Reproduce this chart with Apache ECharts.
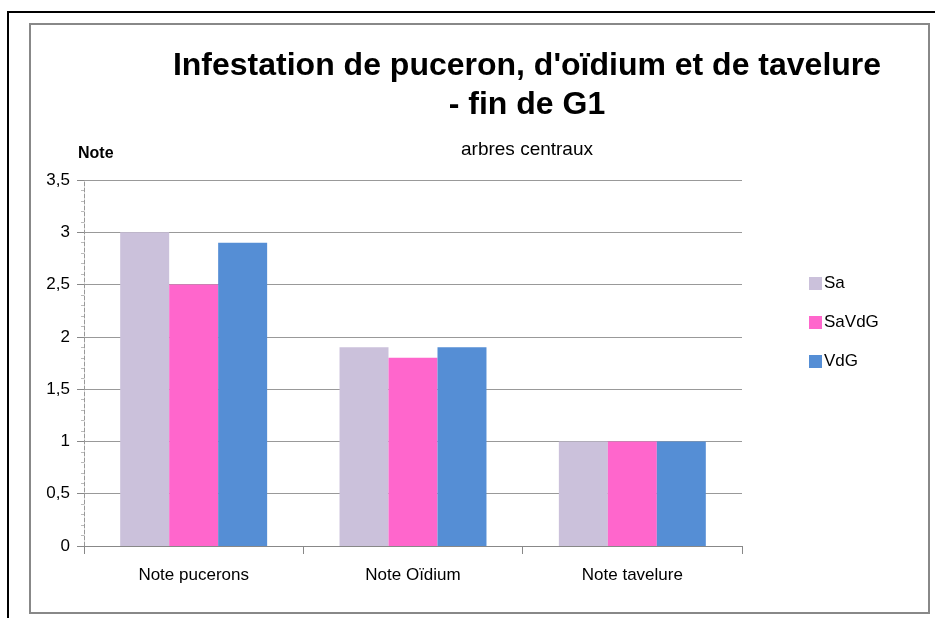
<!DOCTYPE html>
<html><head><meta charset="utf-8">
<script src="https://cdn.jsdelivr.net/npm/echarts@6/dist/echarts.min.js"></script>
<style>html,body{margin:0;padding:0;background:#fff}#c{width:935px;height:618px}</style>
</head><body><div id="c"></div>
<script>
var categories = ['Note pucerons', 'Note Oïdium', 'Note tavelure'];
var seriesNames = ['Sa', 'SaVdG', 'VdG'];
var valuesSa = [3, 1.9, 1];
var valuesSaVdG = [2.5, 1.8, 1];
var valuesVdG = [2.9, 1.9, 1];
var colors = ['#CBC1DB', '#FF66CC', '#558ED5'];
var FONT = '"Liberation Sans", Arial, sans-serif';

var chart = echarts.init(document.getElementById('c'));
var data = [valuesSa, valuesSaVdG, valuesVdG];
chart.setOption({
  animation: false,
  backgroundColor: '#fff',
  textStyle: { fontFamily: FONT },
  title: [{
    text: 'Infestation de puceron, d\'oïdium et de tavelure\n- fin de G1',
    left: 522, top: 42, textAlign: 'center',
    textStyle: { fontSize: 32, fontWeight: 'bold', color: '#000', lineHeight: 39, fontFamily: FONT }
  }, {
    text: 'arbres centraux',
    left: 522, top: 135, textAlign: 'center',
    textStyle: { fontSize: 19, fontWeight: 'normal', color: '#000', fontFamily: FONT }
  }],
  legend: {
    orient: 'vertical', left: 804, top: 270, itemGap: 22,
    itemWidth: 13, itemHeight: 13, icon: 'rect',
    textStyle: { fontSize: 17, color: '#000', fontFamily: FONT, padding: [0, 0, 0, -3] },
    data: seriesNames
  },
  grid: { left: 84, right: 193, top: 180, bottom: 72, containLabel: false },
  xAxis: {
    type: 'category', data: categories,
    axisLine: { lineStyle: { color: '#888', width: 1 } },
    axisTick: { show: true, length: 8, lineStyle: { color: '#888' } },
    axisLabel: { fontSize: 17, color: '#000', margin: 21, fontFamily: FONT }
  },
  yAxis: {
    type: 'value', min: 0, max: 3.5, interval: 0.5,
    name: 'Note', nameLocation: 'end', nameGap: 18,
    nameTextStyle: { fontSize: 16, fontWeight: 'bold', color: '#000', align: 'left', padding: [0, 0, 0, -6], fontFamily: FONT },
    axisLine: { show: true, lineStyle: { color: '#999', type: 'dashed', width: 1 } },
    axisTick: { show: true, length: 7, lineStyle: { color: '#888' } },
    minorTick: { show: true, splitNumber: 5, length: 3, lineStyle: { color: '#bbb' } },
    splitLine: { show: true, lineStyle: { color: '#999', width: 1 } },
    axisLabel: {
      fontSize: 17, color: '#000', margin: 14, fontFamily: FONT,
      formatter: function (v) { return String(v).replace('.', ','); }
    }
  },
  series: seriesNames.map(function (n, i) {
    return {
      name: n, type: 'bar', data: data[i],
      barGap: '0%', barCategoryGap: '33%',
      itemStyle: { color: colors[i] }
    };
  }),
  graphic: [
    { type: 'polyline', shape: { points: [[8, 618], [8, 12], [935, 12]] }, style: { stroke: '#000', lineWidth: 2, fill: null } },
    { type: 'rect', shape: { x: 30, y: 24, width: 899, height: 589 }, style: { stroke: '#888', lineWidth: 2, fill: null } }
  ]
});
</script></body></html>
